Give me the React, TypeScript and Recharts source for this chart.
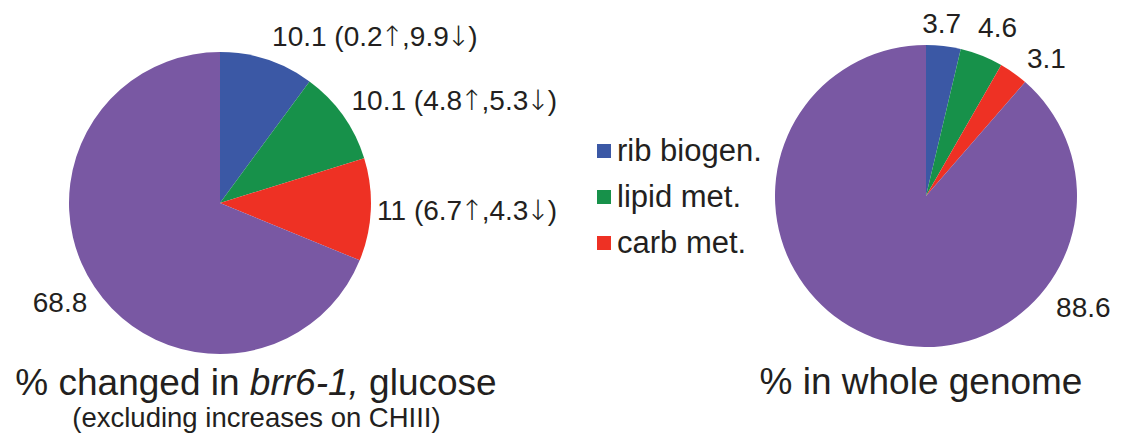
import React from 'react'
import { PieChart, Pie, Legend } from 'recharts'

// categories shared by both pies (last one is the remainder)
const categories = ['rib biogen.', 'lipid met.', 'carb met.', 'other']
const sliceColors = ['#3B58A5', '#17914A', '#EE3124', '#7958A3']

// % changed in brr6-1, glucose
const changedValues = [10.1, 10.1, 11, 68.8]
const changedUp = [0.2, 4.8, 6.7, null]
const changedDown = [9.9, 5.3, 4.3, null]

// % in whole genome
const genomeValues = [3.7, 4.6, 3.1, 88.6]

const FONT = '"Liberation Sans", Arial, Helvetica, sans-serif'
const ARROW_FONT = '"DejaVu Sans", sans-serif'
const INK = '#231F20'

const changedData = categories.map((name, i) => ({ name, value: changedValues[i], fill: sliceColors[i] }))
const genomeData = categories.map((name, i) => ({ name, value: genomeValues[i], fill: sliceColors[i] }))

// where each label sits: polar angle (deg), gap beyond the rim, text anchor
type Spot = { angle: number; gap: number; anchor: 'start' | 'middle' | 'end' }
const changedSpots: Spot[] = [
  { angle: 71.6, gap: 14, anchor: 'start' },
  { angle: 35.2, gap: 10, anchor: 'start' },
  { angle: -6.2, gap: 7, anchor: 'start' },
  { angle: -140.7, gap: 20.5, anchor: 'end' },
]
const genomeSpots: Spot[] = [
  { angle: 84.5, gap: 13, anchor: 'middle' },
  { angle: 65.8, gap: 23.6, anchor: 'middle' },
  { angle: 46.7, gap: 24.6, anchor: 'middle' },
  { angle: -37.5, gap: 47.3, anchor: 'middle' },
]

// arrows sit tight against the numbers, as in the source figure
const Arrow = ({ ch }: { ch: string }) => (
  <tspan dx={-2} fontFamily={ARROW_FONT} fontWeight={200}>{ch}</tspan>
)

const changedContent = (i: number) => {
  const v = changedValues[i]
  if (changedUp[i] === null) return `${v}`
  return (
    <>
      {`${v} (${changedUp[i]}`}
      <Arrow ch="↑" />
      <tspan dx={-2}>{`,${changedDown[i]}`}</tspan>
      <Arrow ch="↓" />
      <tspan dx={-2}>)</tspan>
    </>
  )
}
const genomeContent = (i: number) => `${genomeValues[i]}`

const makeLabel = (content: (i: number) => React.ReactNode, spots: Spot[]) => (props: any) => {
  const { cx, cy, outerRadius, index } = props
  const s = spots[index]
  const rad = (s.angle * Math.PI) / 180
  const r = outerRadius + s.gap
  return (
    <text
      key={`lbl-${index}`}
      x={cx + r * Math.cos(rad)}
      y={cy - r * Math.sin(rad)}
      textAnchor={s.anchor}
      fill={INK}
      fontSize={28}
      fontFamily={FONT}
    >
      {content(index)}
    </text>
  )
}

const LegendBox = ({ payload }: any) => {
  const items = categories
    .filter((c) => c !== 'other')
    .map((c) => (payload || []).find((p: any) => p.value === c) || { value: c, color: sliceColors[categories.indexOf(c)] })
  return (
    <div style={{ fontFamily: FONT, fontSize: 31, color: INK }}>
      {items.map((item: any) => (
        <div key={item.value} style={{ height: 46, lineHeight: '46px', position: 'relative', paddingLeft: 20, whiteSpace: 'nowrap' }}>
          <span style={{ position: 'absolute', left: 0, top: 16, width: 14, height: 14, background: item.color }} />
          {item.value}
        </div>
      ))}
    </div>
  )
}

export default function App() {
  return (
    <div style={{ position: 'relative', width: 1125, height: 436, background: '#fff' }}>
      <style>{`body{margin:0}.recharts-pie-sectors{filter:drop-shadow(1.5px 2px 2px rgba(0,0,0,0.3))}`}</style>
      <PieChart width={1125} height={436} margin={{ top: 0, right: 0, bottom: 0, left: 0 }}>
        <Pie
          data={changedData}
          dataKey="value"
          nameKey="name"
          cx={220}
          cy={203}
          outerRadius={151}
          startAngle={90}
          endAngle={-270}
          stroke="none"
          labelLine={false}
          label={makeLabel(changedContent, changedSpots)}
          isAnimationActive={false}
        />
        <Pie
          data={genomeData}
          dataKey="value"
          nameKey="name"
          cx={926}
          cy={196}
          outerRadius={151}
          startAngle={90}
          endAngle={-270}
          stroke="none"
          labelLine={false}
          label={makeLabel(genomeContent, genomeSpots)}
          isAnimationActive={false}
          legendType="none"
        />
        <Legend
          layout="vertical"
          align="right"
          verticalAlign="middle"
          content={<LegendBox />}
          wrapperStyle={{ left: 597, top: 128, width: 'auto', right: 'auto' }}
        />
      </PieChart>
      <svg width={1125} height={436} style={{ position: 'absolute', left: 0, top: 0, pointerEvents: 'none' }}>
        <text x={256} y={395} textAnchor="middle" fontSize={37} fontFamily={FONT} fill={INK}>
          % changed in <tspan fontStyle="italic">brr6-1,</tspan> glucose
        </text>
        <text x={256.5} y={427} textAnchor="middle" fontSize={27.5} fontFamily={FONT} fill={INK}>
          (excluding increases on CHIII)
        </text>
        <text x={921} y={394} textAnchor="middle" fontSize={37} fontFamily={FONT} fill={INK}>
          % in whole genome
        </text>
      </svg>
    </div>
  )
}
